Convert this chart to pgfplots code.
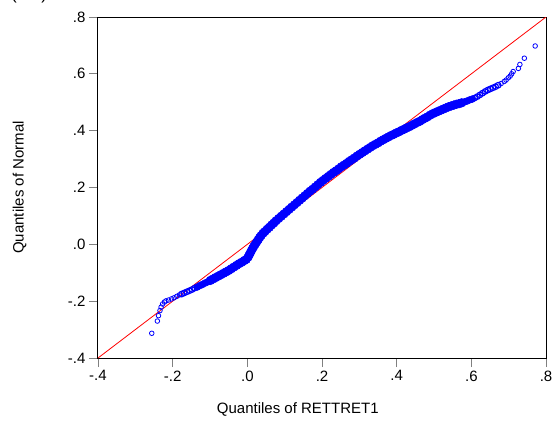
\documentclass[border=0pt]{standalone}
\usepackage{fontspec}
\setmainfont{Liberation Sans}
\usepackage{pgfplots}
\pgfplotsset{compat=1.18}

\begin{document}
\begin{tikzpicture}[font=\fontsize{15}{18}\selectfont]
  \begin{axis}[
      scale only axis,
      width=448pt, height=341pt,
      xmin=-0.4, xmax=0.8, ymin=-0.4, ymax=0.8,
      xtick={-0.4,-0.2,0,0.2,0.4,0.6,0.8},
      xticklabels={-.4,-.2,.0,.2,.4,.6,.8},
      ytick={-0.4,-0.2,0,0.2,0.4,0.6,0.8},
      yticklabels={-.4,-.2,.0,.2,.4,.6,.8},
      xtick pos=bottom, ytick pos=left,
      tick align=outside,
      major tick length=9pt,
      tick style={draw=black!50, line width=0.9pt},
      axis line style={line width=1pt},
      xlabel={Quantiles of RETTRET1},
      ylabel={Quantiles of Normal},
      xlabel style={at={(axis description cs:0.446,-0.164)}, anchor=base},
      ylabel style={at={(axis description cs:-0.166,0.5)}, anchor=base},
    ]
    % tails (single circles)
    \addplot[only marks, mark=o, blue, mark size=2.3pt,
             mark options={line width=0.8pt}]
      coordinates {
        (-0.256,-0.313) (-0.241,-0.270) (-0.238,-0.251) (-0.234,-0.233)
        (-0.231,-0.221) (-0.227,-0.210) (-0.222,-0.203) (-0.218,-0.199)
        (-0.211,-0.196) (-0.203,-0.192) (-0.196,-0.188) (-0.189,-0.183)
        (-0.182,-0.178)
        (0.680,0.566) (0.688,0.573) (0.693,0.578) (0.699,0.586)
        (0.704,0.592) (0.708,0.600) (0.712,0.608) (0.726,0.619)
        (0.730,0.633) (0.742,0.655) (0.771,0.698)
      };
    % thinner parts of the band
    \addplot[only marks, mark=o, blue, mark size=2.8pt,
             mark options={line width=1.2pt}]
      coordinates {
        (-0.176,-0.175) (-0.169,-0.171) (-0.162,-0.167) (-0.155,-0.163)
        (-0.148,-0.159) (-0.141,-0.154)
        (0.609,0.515) (0.616,0.520) (0.623,0.526) (0.630,0.532)
        (0.637,0.538) (0.644,0.543) (0.651,0.547) (0.658,0.551)
        (0.665,0.555) (0.672,0.560)
      };
    \addplot[only marks, mark=*, blue, mark size=3.4pt,
             mark options={draw=blue, fill=blue, line width=0.6pt}]
      coordinates {
        (-0.134,-0.150) (-0.127,-0.145) (-0.120,-0.141) (-0.113,-0.136)
        (-0.106,-0.132)
        (0.581,0.501) (0.588,0.504) (0.595,0.508) (0.602,0.511)
      };
    % dense middle of the band, where the circles run together
    \addplot[only marks, mark=*, blue, mark size=4.3pt,
             mark options={draw=blue, fill=blue, line width=0.6pt}]
      coordinates {
        (-0.099,-0.127) (-0.092,-0.122) (-0.085,-0.117) (-0.078,-0.112)
        (-0.071,-0.107) (-0.064,-0.102) (-0.057,-0.097) (-0.050,-0.092)
        (-0.043,-0.086) (-0.036,-0.080) (-0.029,-0.074) (-0.022,-0.068)
        (-0.015,-0.063) (-0.008,-0.057) (-0.003,-0.053)
        (0.002,-0.045) (0.005,-0.037) (0.008,-0.030) (0.011,-0.022)
        (0.014,-0.015) (0.017,-0.008) (0.021,0.000) (0.025,0.008)
        (0.029,0.016) (0.033,0.024) (0.037,0.031) (0.042,0.039)
        (0.047,0.045) (0.053,0.053) (0.059,0.060) (0.065,0.068)
        (0.071,0.075) (0.077,0.083) (0.084,0.091) (0.091,0.099)
        (0.098,0.107) (0.105,0.115) (0.112,0.123) (0.119,0.131)
        (0.126,0.139) (0.133,0.147) (0.140,0.155) (0.147,0.163)
        (0.154,0.171) (0.161,0.179) (0.168,0.187) (0.175,0.194)
        (0.182,0.202) (0.189,0.210) (0.196,0.218) (0.203,0.225)
        (0.210,0.232) (0.217,0.239) (0.224,0.246) (0.231,0.253)
        (0.238,0.259) (0.245,0.266) (0.252,0.273) (0.259,0.279)
        (0.266,0.285) (0.273,0.292) (0.280,0.298) (0.287,0.304)
        (0.294,0.311) (0.301,0.317) (0.308,0.323) (0.315,0.329)
        (0.322,0.335) (0.329,0.341) (0.336,0.347) (0.343,0.352)
        (0.350,0.357) (0.357,0.363) (0.364,0.368) (0.371,0.373)
        (0.378,0.378) (0.385,0.383) (0.392,0.387) (0.399,0.392)
        (0.406,0.396) (0.413,0.401) (0.420,0.405) (0.427,0.410)
        (0.434,0.414) (0.441,0.419) (0.448,0.424) (0.455,0.429)
        (0.462,0.433) (0.469,0.439) (0.476,0.444) (0.483,0.449)
        (0.490,0.455) (0.497,0.460) (0.504,0.464) (0.511,0.468)
        (0.518,0.472) (0.525,0.476) (0.532,0.480) (0.539,0.484)
        (0.546,0.487) (0.553,0.490) (0.560,0.493) (0.567,0.495)
        (0.574,0.498)
      };
    % reference line
    \addplot[red, line width=0.8pt] coordinates {(-0.4,-0.4) (0.8,0.8)};
  \end{axis}
  % panel letter, cut by the top edge as in the original
  \node[overlay, anchor=base west, inner sep=0pt,
        font=\fontsize{17}{20}\selectfont] at (-87pt,358.5pt)
    {(\hspace{8pt}c\hspace{8pt})};
  \pgfresetboundingbox
  \path[use as bounding box] (-98pt,-68pt) rectangle (455pt,358pt);
\end{tikzpicture}
\end{document}
